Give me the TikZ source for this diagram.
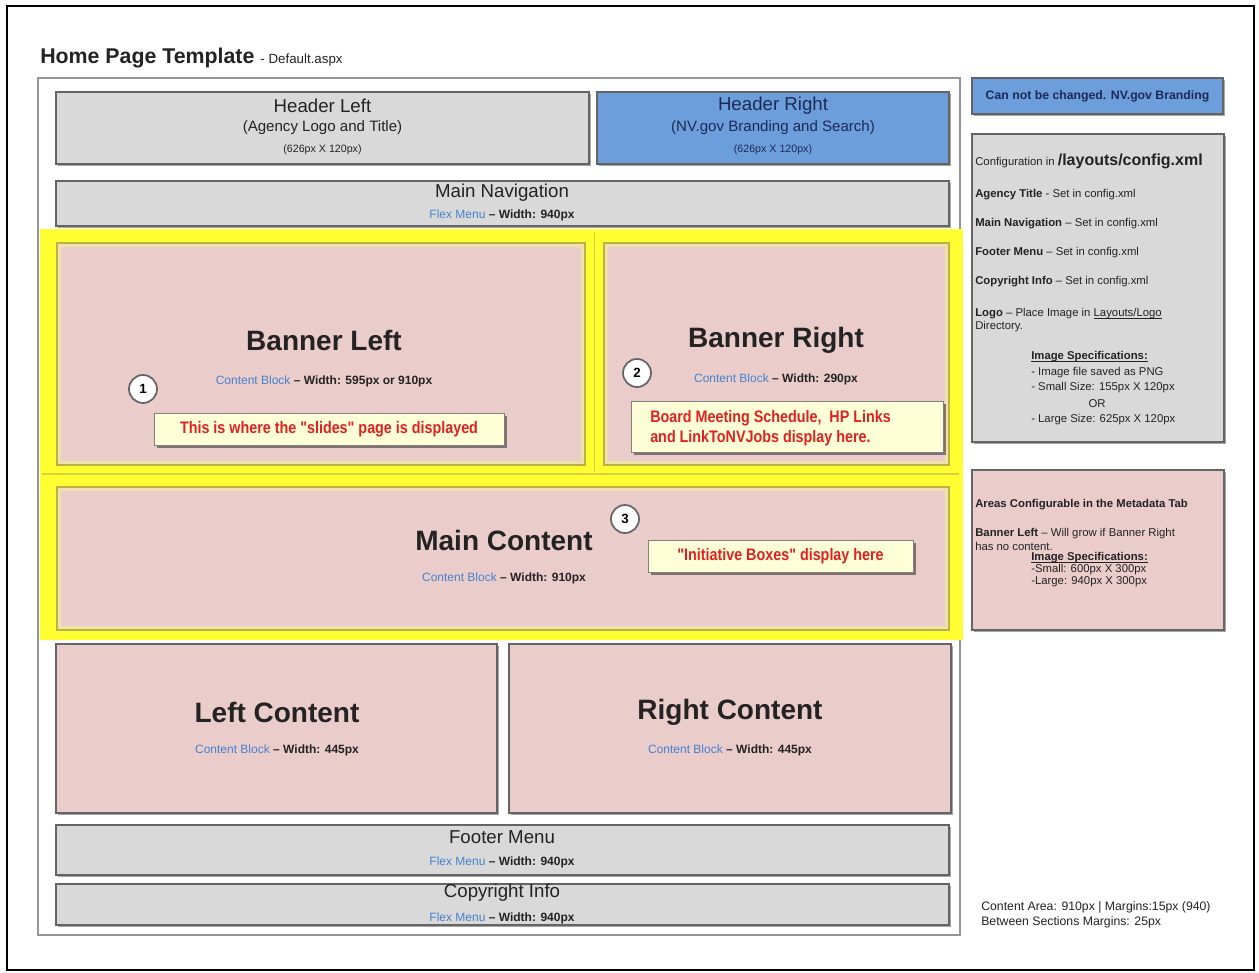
\documentclass[tikz,border=0pt]{standalone}
\usepackage{fontspec}
\setmainfont{Liberation Sans}
\newfontfamily\condfont{Liberation Sans}[FakeStretch=0.86]
\usetikzlibrary{fit,shadows}
\definecolor{boxgray}{RGB}{217,217,217}
\definecolor{edgegray}{RGB}{100,100,100}
\definecolor{hdrblue}{RGB}{109,158,220}
\definecolor{navy}{RGB}{28,42,86}
\definecolor{pinkfill}{RGB}{234,204,203}
\definecolor{hiyellow}{RGB}{255,255,50}
\definecolor{oliveline}{RGB}{185,178,70}
\definecolor{linkblue}{RGB}{70,130,205}
\definecolor{txt}{RGB}{35,35,35}
\definecolor{calloutfill}{RGB}{255,255,215}
\definecolor{calloutred}{RGB}{226,32,32}
\definecolor{framegray}{RGB}{150,150,150}
\definecolor{glow}{RGB}{240,226,170}
\newcommand\fsz[2]{\fontsize{#1}{#2}\selectfont}
\newcommand\myul[1]{\setbox0\hbox{#1}\rlap{\rule[-1.1pt]{\wd0}{0.5pt}}\box0}
\begin{document}
\begin{tikzpicture}[x=0.75pt,y=-0.75pt,
  area/.style={inner sep=0pt, outer sep=0pt},
  graybox/.style={area, fill=boxgray, draw=edgegray, line width=1.1pt,
    drop shadow={shadow xshift=1.3pt, shadow yshift=-1.3pt, fill=black, opacity=0.35}},
  bluebox/.style={graybox, fill=hdrblue},
  pinkbox/.style={graybox, fill=pinkfill},
  banner/.style={area, fill=pinkfill, draw=oliveline, line width=1pt},
  callout/.style={area, fill=calloutfill, draw=gray, line width=0.6pt,
    drop shadow={shadow xshift=2.2pt, shadow yshift=-2.2pt, fill=black, opacity=0.45}},
  numcirc/.style={circle, draw=edgegray, line width=1.3pt, fill=white, minimum size=21pt,
    inner sep=0pt, font=\fsz{10}{12}\bfseries},
  lbl/.style={inner sep=0pt, text=txt},
  side/.style={lbl, anchor=west, font=\fsz{8.5}{10}},
  note/.style={lbl, anchor=west, font=\fsz{9.2}{11}},
  head/.style={lbl, font=\fsz{21}{24}\bfseries},
  sub/.style={lbl, font=\fsz{9}{11}},
  redtxt/.style={inner sep=0pt, text=calloutred, font=\condfont\fsz{12.5}{15}\bfseries}
]
\useasboundingbox (0,0) rectangle (1259,973);
\fill[white] (0,0) rectangle (1259,973);
\node[area, fit={(7,6) (1254,970)}, draw=black, line width=2.2pt] (frame) {};

% title
\node[lbl, anchor=base west] (title) at (40,64)
  {\fsz{16}{18}\bfseries Home Page Template \fsz{10}{12}\mdseries - Default.aspx};

% page frame
\node[area, fit={(38,78) (960,935)}, draw=framegray, line width=0.9pt] (page) {};

% header
\node[graybox, fit={(56,92) (589,164)}] (hleft) {};
\node[lbl, font=\fsz{14}{16}] (hl1) at (322.5,106) {Header Left};
\node[lbl, font=\fsz{11.3}{13}] (hl2) at (322.5,128) {(Agency Logo and Title)};
\node[lbl, font=\fsz{8}{10}] (hl3) at (322.5,150) {(626px X 120px)};

\node[bluebox, fit={(597,92) (949,164)}] (hright) {};
\node[lbl, text=navy, font=\fsz{14}{16}] (hr1) at (773,106) {Header Right};
\node[lbl, text=navy, font=\fsz{11.3}{13}] (hr2) at (773,128) {(NV.gov Branding and Search)};
\node[lbl, text=navy, font=\fsz{8}{10}] (hr3) at (773,150) {(626px X 120px)};

% main navigation
\node[graybox, fit={(56,181) (949,226)}] (mnav) {};
\node[lbl, font=\fsz{14}{16}] (mn1) at (502,193) {Main Navigation};
\node[sub] (mn2) at (502,215) {{\color{linkblue}Flex Menu} \textbf{– Width: 940px}};

% yellow highlighted area
\fill[hiyellow] (40,229) rectangle (963,640);
\draw[oliveline!60!hiyellow, line width=0.8pt] (594.5,232) -- (594.5,471);
\draw[oliveline!60!hiyellow, line width=0.8pt] (42,474) -- (959,474);

\node[banner, fit={(57,243) (585,465)}] (bleft) {};
\draw[glow, line width=2.2pt] ([shift={(2.5,2.5)}]bleft.north west) rectangle ([shift={(-2.5,-2.5)}]bleft.south east);
\node[banner, fit={(604,243) (949,465)}] (bright) {};
\draw[glow, line width=2.2pt] ([shift={(2.5,2.5)}]bright.north west) rectangle ([shift={(-2.5,-2.5)}]bright.south east);
\node[banner, fit={(57,487) (949,630)}] (mcont) {};
\draw[glow, line width=2.2pt] ([shift={(2.5,2.5)}]mcont.north west) rectangle ([shift={(-2.5,-2.5)}]mcont.south east);

\node[head] (bl1) at (324,340) {Banner Left};
\node[sub] (bl2) at (324,381) {{\color{linkblue}Content Block} \textbf{– Width: 595px or 910px}};
\node[numcirc] (n1) at (143,389) {1};
\node[callout, fit={(154,413) (504,445)}] (co1) {};
\node[redtxt] (co1t) at (co1.center) {This is where the "slides" page is displayed};

\node[head] (br1) at (776,340) {Banner Right};
\node[sub] (br2) at (776,379) {{\color{linkblue}Content Block} \textbf{– Width: 290px}};
\node[numcirc] (n2) at (637,373) {2};
\node[callout, fit={(631,401) (943,452)}] (co2) {};
\node[redtxt, anchor=west] (co2a) at (650,418) {Board Meeting Schedule,\ \ HP Links};
\node[redtxt, anchor=west] (co2b) at (650,438) {and LinkToNVJobs display here.};

\node[head] (mc1) at (504,540) {Main Content};
\node[sub] (mc2) at (504,578) {{\color{linkblue}Content Block} \textbf{– Width: 910px}};
\node[numcirc] (n3) at (625,519) {3};
\node[callout, fit={(648,540) (913,572)}] (co3) {};
\node[redtxt] (co3t) at (co3.center) {"Initiative Boxes" display here};

% left / right content
\node[pinkbox, fit={(56,644) (497,813)}] (lcont) {};
\node[head] (lc1) at (277,712) {Left Content};
\node[sub] (lc2) at (277,750) {{\color{linkblue}Content Block} \textbf{– Width: 445px}};
\node[pinkbox, fit={(509,644) (951,813)}] (rcont) {};
\node[head] (rc1) at (730,712) {Right Content};
\node[sub] (rc2) at (730,750) {{\color{linkblue}Content Block} \textbf{– Width: 445px}};

% footer / copyright
\node[graybox, fit={(56,825) (949,875)}] (fmenu) {};
\node[lbl, font=\fsz{14}{16}] (fm1) at (502,837) {Footer Menu};
\node[sub] (fm2) at (502,862) {{\color{linkblue}Flex Menu} \textbf{– Width: 940px}};
\node[graybox, fit={(56,884) (949,925)}] (copy) {};
\node[lbl, font=\fsz{14}{16}] (cp1) at (502,893) {Copyright Info};
\node[sub] (cp2) at (502,918) {{\color{linkblue}Flex Menu} \textbf{– Width: 940px}};

% right panel
\node[bluebox, fit={(972,78) (1223,114)}] (nochange) {};
\node[lbl, text=navy, font=\fsz{9.2}{11}\bfseries] (ncx) at (nochange.center) {Can not be changed. NV.gov Branding};

\node[graybox, fit={(972,134) (1224,442)}] (config) {};
\node[side] (cf1) at (975,161) {Configuration in \fsz{12}{14}\bfseries /layouts/config.xml};
\node[side] (cf2) at (975,195) {\textbf{Agency Title} - Set in config.xml};
\node[side] (cf3) at (975,224) {\textbf{Main Navigation} – Set in config.xml};
\node[side] (cf4) at (975,253) {\textbf{Footer Menu} – Set in config.xml};
\node[side] (cf5) at (975,282) {\textbf{Copyright Info} – Set in config.xml};
\node[side] (cf6) at (975,314) {\textbf{Logo} – Place Image in \myul{Layouts/Logo}};
\node[side] (cf7) at (975,327) {Directory.};
\node[side] (cf8) at (1031,357) {\myul{\textbf{Image Specifications:}}};
\node[side] (cf9) at (1031,373) {- Image file saved as PNG};
\node[side] (cf10) at (1031,388) {- Small Size: 155px X 120px};
\node[lbl, font=\fsz{8.5}{10}] (cf11) at (1097,404) {OR};
\node[side] (cf12) at (1031,420) {- Large Size: 625px X 120px};

\node[pinkbox, fit={(972,470) (1224,630)}] (meta) {};
\node[side] (mt1) at (975,505) {\textbf{Areas Configurable in the Metadata Tab}};
\node[side] (mt2) at (975,534) {\textbf{Banner Left} – Will grow if Banner Right};
\node[side] (mt3) at (975,546) {has no content.};
\node[side] (mt4) at (1031,558) {\myul{\textbf{Image Specifications:}}};
\node[side] (mt5) at (1031,570) {-Small: 600px X 300px};
\node[side] (mt6) at (1031,582) {-Large: 940px X 300px};

\node[note] (nt1) at (981,907) {Content Area: 910px | Margins:15px (940)};
\node[note] (nt2) at (981,922) {Between Sections Margins: 25px};
\end{tikzpicture}
\end{document}
